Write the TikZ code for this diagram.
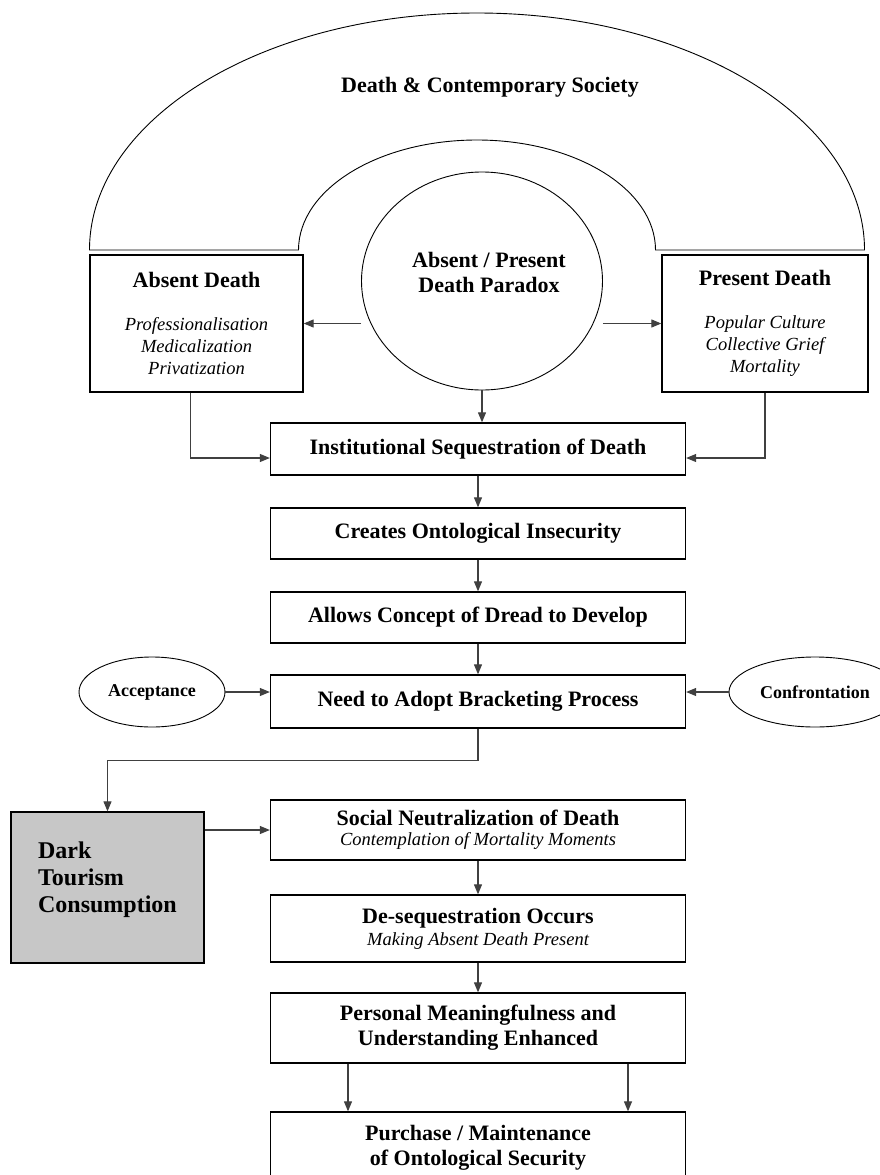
\documentclass[tikz,border=0pt]{standalone}
\usepackage{fontspec}
\setmainfont{Liberation Serif}
\usetikzlibrary{arrows.meta,shapes.geometric}

\tikzset{
  caja/.style={draw, line width=1.3pt, align=center, minimum width=415pt,
    font=\fontsize{22}{25}\selectfont\bfseries},
  ovalo/.style={draw, ellipse, line width=0.9pt, minimum height=70pt, inner sep=0pt,
    font=\fontsize{18}{20}\selectfont\bfseries},
  flecha/.style={draw=black!75, line width=1.1pt, -{Triangle[length=10pt,width=8pt]}},
}
\newcommand{\subtexto}[1]{{\fontsize{18.5}{21}\selectfont\mdseries\itshape #1}}

\begin{document}
\begin{tikzpicture}[x=1pt,y=-1pt]
    \useasboundingbox (0,0) rectangle (880,1175);

    % arco de la sociedad
    \draw[line width=0.9pt] (89.5,250) arc[start angle=180, end angle=0, x radius=387.5pt, y radius=237pt]
        -- (655.5,250) arc[start angle=0, end angle=180, x radius=178.5pt, y radius=110pt] -- cycle;
    \node[font=\fontsize{22}{25}\selectfont\bfseries] (sociedad) at (490,87) {Death \& Contemporary Society};

    % paradoja
    \node[draw, ellipse, line width=0.9pt, minimum width=241pt, minimum height=218pt] (paradoja) at (482,281) {};
    \node[align=center, font=\fontsize{22}{25}\selectfont\bfseries] (paradojatxt) at (489,272) {Absent / Present\\Death Paradox};

    % cajas laterales
    \node[caja, minimum width=213pt, minimum height=137pt] (ausente) at (196.5,323.5)
        {Absent Death\\[18pt]\subtexto{Professionalisation}\\[-3pt]\subtexto{Medicalization}\\[-3pt]\subtexto{Privatization}};
    \node[caja, minimum width=206pt, minimum height=137pt] (presente) at (765,323.5)
        {Present Death\\[18pt]\subtexto{Popular Culture}\\[-3pt]\subtexto{Collective Grief}\\[-3pt]\subtexto{Mortality}};

    % cadena central
    \node[caja, minimum height=52pt] (institucional) at (478,449) {Institutional Sequestration of Death};
    \node[caja, minimum height=51pt] (inseguridad) at (478,533.5) {Creates Ontological Insecurity};
    \node[caja, minimum height=51pt] (pavor) at (478,617.5) {Allows Concept of Dread to Develop};
    \node[caja, minimum height=53pt] (horquillado) at (478,701.5) {Need to Adopt Bracketing Process};
    \node[caja, minimum height=60pt] (neutralizacion) at (478,830)
        {Social Neutralization of Death\\[-5pt]\subtexto{Contemplation of Mortality Moments}};
    \node[caja, minimum height=67pt] (desecuestro) at (478,928.5)
        {De-sequestration Occurs\\[-3pt]\subtexto{Making Absent Death Present}};
    \node[caja, minimum height=70pt] (sentido) at (478,1028) {Personal Meaningfulness and\\Understanding Enhanced};
    \node[caja, minimum height=72pt] (seguridad) at (478,1148) {Purchase / Maintenance\\of Ontological Security};

    % ovalos
    \node[ovalo, minimum width=146pt] (aceptacion) at (152,692) {Acceptance};
    \node[ovalo, minimum width=172pt] (confrontacion) at (815,692) {Confrontation};

    % turismo oscuro
    \node[draw, line width=1.3pt, fill=black!22, minimum width=193pt, minimum height=151pt, align=left,
        text depth=21pt, font=\fontsize{24}{27}\selectfont\bfseries] (turismo) at (107.5,887.5) {Dark\\Tourism\\Consumption};

    % flechas
    \draw[flecha] (paradoja.west |- ausente.east) -- (ausente.east);
    \draw[flecha] (paradoja.east |- presente.west) -- (presente.west);
    \draw[flecha] (paradoja.south) -- (paradoja.south |- institucional.north);
    \draw[flecha] ([xshift=-6pt]ausente.south) |- ([yshift=-9pt]institucional.west);
    \draw[flecha] (presente.south) |- ([yshift=-9pt]institucional.east);
    \draw[flecha] (institucional) -- (inseguridad);
    \draw[flecha] (inseguridad) -- (pavor);
    \draw[flecha] (pavor) -- (horquillado);
    \draw[flecha] (aceptacion) -- (aceptacion -| horquillado.west);
    \draw[flecha] (confrontacion) -- (confrontacion -| horquillado.east);
    \draw[flecha] (horquillado.south) -- ++(0,32) -| (turismo.north);
    \draw[flecha] (turismo.east |- neutralizacion.west) -- (neutralizacion.west);
    \draw[flecha] (neutralizacion) -- (desecuestro);
    \draw[flecha] (desecuestro) -- (sentido);
    \draw[flecha] ([xshift=-130pt]sentido.south) -- ([xshift=-130pt]seguridad.north);
    \draw[flecha] ([xshift=150pt]sentido.south) -- ([xshift=150pt]seguridad.north);

\end{tikzpicture}
\end{document}
